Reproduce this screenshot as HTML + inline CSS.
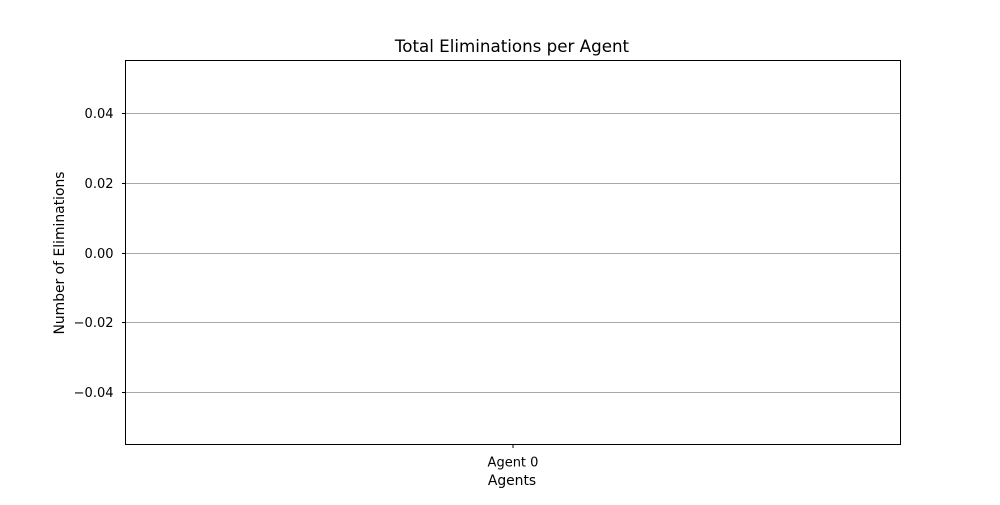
<!DOCTYPE html>
<html><head><meta charset="utf-8"><style>
body{margin:0;background:#fff;}
svg text{font-family:"DejaVu Sans","Liberation Sans",sans-serif;fill:#000;}
</style></head><body>
<svg id="chart" width="1000" height="500" xmlns="http://www.w3.org/2000/svg">
<rect x="0" y="0" width="1000" height="500" fill="#fff"/>
<text x="512" y="52" font-size="16.7" text-anchor="middle">Total Eliminations per Agent</text>
<g id="grid"></g>
<g id="bars"></g>
<g id="yticks"></g>
<g id="xticks"></g>
<rect x="125.5" y="60.5" width="775" height="384" fill="none" stroke="#000" stroke-width="1"/>
<text x="512" y="485" font-size="13.9" text-anchor="middle">Agents</text>
<text transform="translate(64,253) rotate(-90)" font-size="13.9" text-anchor="middle">Number of Eliminations</text>
</svg>
<script>
const categories=["Agent 0"];
const values=[0];
const yTicks=[-0.04,-0.02,0,0.02,0.04];
const yTickLabels=["\u22120.04","\u22120.02","0.00","0.02","0.04"];
const NS="http://www.w3.org/2000/svg";
const L=125.5,R=900.5,T=60.5,B=444.5,yMin=-0.055,yMax=0.055;
function y(v){return B-(v-yMin)/(yMax-yMin)*(B-T);}
function x(i){return L+(R-L)*(i+0.5)/categories.length;}
function mk(t,a,p){const e=document.createElementNS(NS,t);for(const k in a)e.setAttribute(k,a[k]);p.appendChild(e);return e;}
const g=document.getElementById('grid'),yt=document.getElementById('yticks'),xt=document.getElementById('xticks'),bs=document.getElementById('bars');
yTicks.forEach((v,i)=>{
 const yy=Math.round(y(v))+0.5;
 const gl=mk('line',{x1:L,x2:R,y1:yy,y2:yy,stroke:'#a8a8a8','stroke-width':1},g);
 
 
 const tk=mk('line',{x1:L-3.5,x2:L,y1:yy,y2:yy,stroke:'#000'},yt);
 
 
 const tx=mk('text',{x:L-12,y:yy+4.5,'font-size':13,'text-anchor':'end'},yt);
 tx.textContent=yTickLabels[i];
 
 
});
categories.forEach((c,i)=>{
 const cx=x(i),bw=(R-L)/categories.length*0.8/1.1;
 const y0=y(0),y1=y(values[i]);
 const r=mk('rect',{x:cx-bw/2,y:Math.min(y0,y1),width:bw,height:Math.abs(y1-y0),fill:'#1f77b4'},bs);
 
 
 const tk=mk('line',{x1:cx,x2:cx,y1:B,y2:B+3.5,stroke:'#000'},xt);
 
 
 const tx=mk('text',{x:cx,y:B+22,'font-size':13,'text-anchor':'middle'},xt);
 tx.textContent=c;
 
 
});
</script>
</body></html>
